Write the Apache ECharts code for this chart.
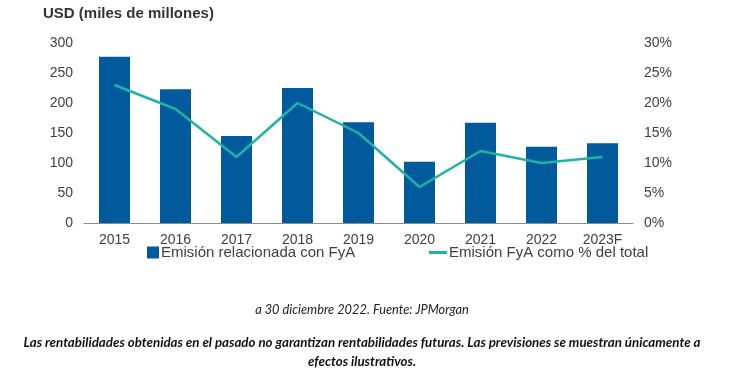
<!DOCTYPE html>
<html><head><meta charset="utf-8">
<script src="https://cdn.jsdelivr.net/npm/echarts@6/dist/echarts.min.js"></script>
<style>html,body{margin:0;padding:0;background:#fff}#c{width:747px;height:378px}</style>
</head><body><div id="c"></div>
<script>
const categories = ['2015','2016','2017','2018','2019','2020','2021','2022','2023F'];
const emision = [277, 223, 145, 225, 168, 102, 167, 127, 133];
const pctTotal = [23, 19, 11, 20, 15, 6, 12, 10, 11];
const leftTicks = [0, 50, 100, 150, 200, 250, 300];
const rightTicks = [0, 5, 10, 15, 20, 25, 30];

const chart = echarts.init(document.getElementById('c'));
const txt = '#404040';
chart.setOption({
  animation: false,
  textStyle: {fontFamily: 'Liberation Sans, Arial, sans-serif'},
  title: [
    {text: 'USD (miles de millones)', left: 43, top: 6, padding: 0,
     textStyle: {fontSize: 15, fontWeight: 'bold', color: '#333', fontFamily: 'Liberation Sans'}},
    {text: 'a 30 diciembre 2022. Fuente: JPMorgan', left: 362, top: 303, padding: 0, textAlign: 'center',
     textStyle: {fontSize: 12.8, fontStyle: 'italic', fontWeight: 'normal', color: '#222', fontFamily: 'Lato'}},
    {text: 'Las rentabilidades obtenidas en el pasado no garantizan rentabilidades futuras. Las previsiones se muestran únicamente a\nefectos ilustrativos.',
     left: 362, top: 333, padding: 0, textAlign: 'center',
     textStyle: {fontSize: 13.3, fontStyle: 'italic', fontWeight: 'bold', color: '#111', lineHeight: 19, fontFamily: 'Lato'}}
  ],
  legend: [
    {data: ['Emisión relacionada con FyA'], left: 142, top: 240, itemWidth: 12, itemHeight: 12, itemGap: 4,
     icon: 'rect', textStyle: {fontSize: 15, color: txt, padding: [0,0,0,-3]}},
    {data: ['Emisión FyA como % del total'], left: 424, top: 240, itemWidth: 18, itemHeight: 3,
     icon: 'rect', textStyle: {fontSize: 15, color: txt, padding: [0,0,0,-3]}}
  ],
  grid: {left: 84, right: 114, top: 43, bottom: 155},
  xAxis: {
    type: 'category', data: categories,
    axisLine: {lineStyle: {color: '#8c8c8c', width: 1}},
    axisTick: {show: false},
    axisLabel: {fontSize: 14, color: txt, margin: 10}
  },
  yAxis: [
    {type: 'value', min: 0, max: 300, interval: 50, splitLine: {show: false},
     axisLine: {show: false}, axisTick: {show: false},
     axisLabel: {fontSize: 14, color: txt, margin: 11,
       formatter: v => leftTicks.includes(v) ? String(v) : ''}},
    {type: 'value', min: 0, max: 30, interval: 5, splitLine: {show: false},
     axisLine: {show: false}, axisTick: {show: false},
     axisLabel: {fontSize: 14, color: txt, margin: 11,
       formatter: v => rightTicks.includes(v) ? v + '%' : ''}}
  ],
  series: [
    {name: 'Emisión relacionada con FyA', type: 'bar', data: emision, barWidth: 31,
     itemStyle: {color: '#005a9c'}},
    {name: 'Emisión FyA como % del total', type: 'line', yAxisIndex: 1, data: pctTotal,
     symbol: 'none', lineStyle: {color: '#1fb2a6', width: 2.5}, itemStyle: {color: '#1fb2a6'}}
  ]
});
</script></body></html>
